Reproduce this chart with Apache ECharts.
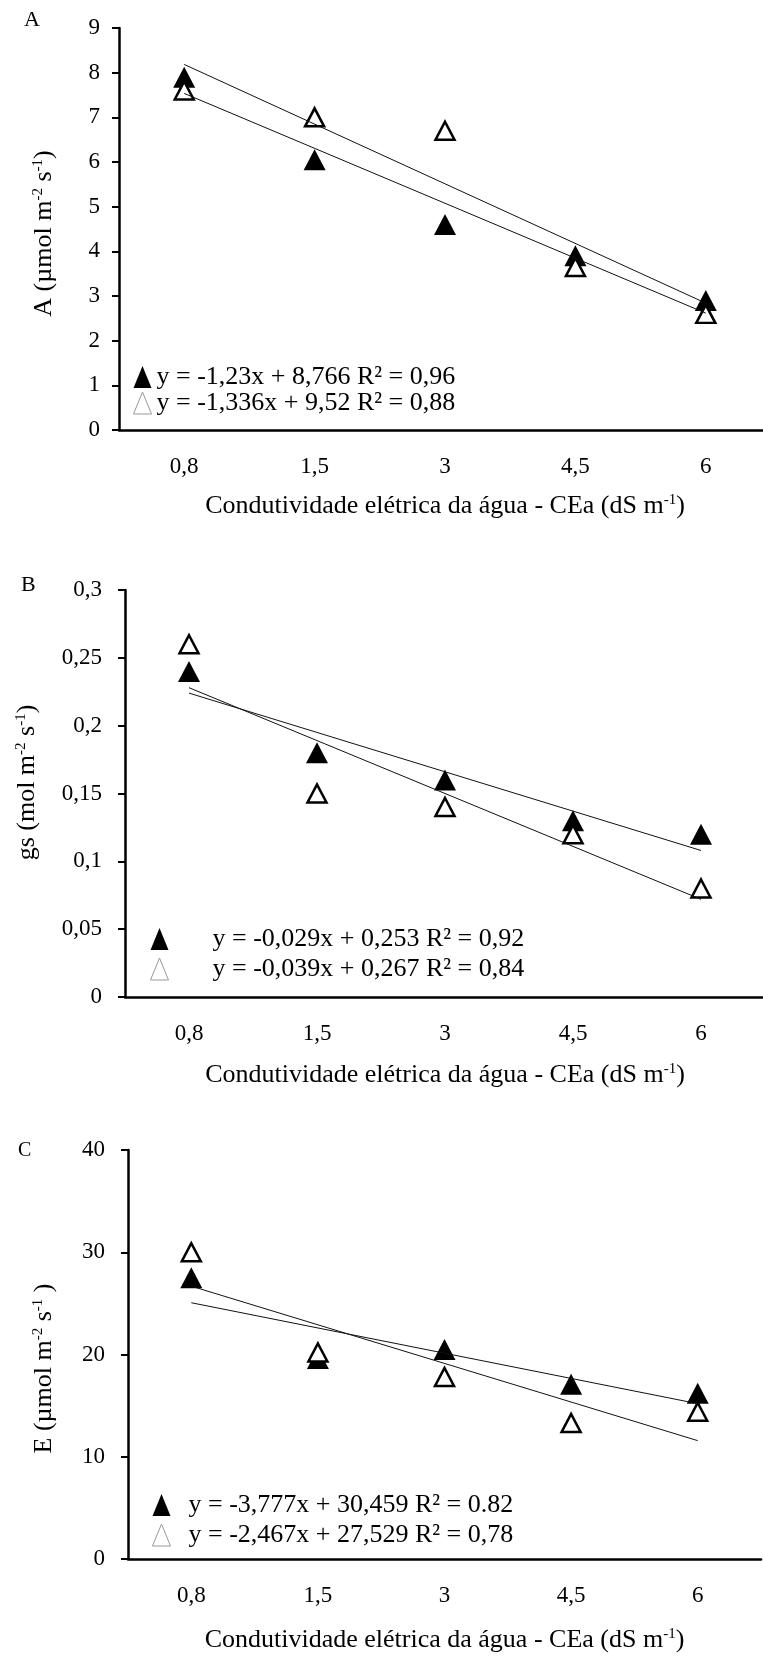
<!DOCTYPE html>
<html>
<head>
<meta charset="utf-8">
<title>Trocas gasosas x CEa</title>
<script src="https://cdn.jsdelivr.net/npm/echarts@6/dist/echarts.min.js"></script>
<style>
  html, body { margin: 0; padding: 0; background: #fff; }
  #chart { width: 763px; height: 1657px; }
</style>
</head>
<body>
<div id="chart"></div>
<script>
// niveis de CEa (eixo x, categorias)
const cea = ["0,8", "1,5", "3", "4,5", "6"];

// A - fotossintese liquida
const aFilled = [7.9, 6.05, 4.6, 3.9, 2.9];
const aOpen = [7.6, 7.0, 6.7, 3.65, 2.6];
const aFitFilled = [-1.23, 8.766];
const aFitOpen = [-1.336, 9.52];
const aEq = ["y = -1,23x + 8,766 R² = 0,96", "y = -1,336x + 9,52 R² = 0,88"];

// B - condutancia estomatica
const bFilled = [0.24, 0.18, 0.16, 0.13, 0.12];
const bOpen = [0.26, 0.15, 0.14, 0.12, 0.08];
const bFitFilled = [-0.029, 0.253];
const bFitOpen = [-0.039, 0.267];
const bEq = ["y = -0,029x + 0,253 R² = 0,92", "y = -0,039x + 0,267 R² = 0,84"];

// C - transpiracao
const cFilled = [27.5, 19.6, 20.5, 17.1, 16.2];
const cOpen = [30.0, 20.2, 17.8, 13.3, 14.4];
const cFitFilled = [-3.777, 30.459];
const cFitOpen = [-2.467, 27.529];
const cEq = ["y = -3,777x + 30,459 R² = 0.82", "y = -2,467x + 27,529 R² = 0,78"];

const FONT = '"Liberation Serif", "Times New Roman", serif';
const xTitle = "{n|Condutividade elétrica da água - CEa (dS m}{s|-1}{n|)}";

// reta de tendencia do Excel: x = 1..5 (posicao da categoria)
function trend(fit) {
  return [[0, fit[0] * 1 + fit[1]], [4, fit[0] * 5 + fit[1]]];
}

function comma(v) {
  return String(+v.toFixed(2)).replace(".", ",");
}

const richTitle = (size) => ({
  n: { fontSize: size, lineHeight: size, fontFamily: FONT, color: "#000" },
  s: { fontSize: 15, lineHeight: 15, fontFamily: FONT, color: "#000", verticalAlign: "top" }
});

const panels = [
  {
    key: "A", grid: { left: 119, top: 28, width: 652, height: 402 },
    max: 9, interval: 1, labelMargin: 19,
    yName: "{n|A (µmol m}{s|-2}{n| s}{s|-1}{n|)}", yGap: 62, yPad: [0, 9, 0, 0],
    xGap: 63, xMargin: 25,
    filled: aFilled, open: aOpen, fitFilled: aFitFilled, fitOpen: aFitOpen, eq: aEq,
    legend: { left: 133, top: 364, itemGap: 0, pad: "" }
  },
  {
    key: "B", grid: { left: 125, top: 590, width: 640, height: 407 },
    max: 0.3, interval: 0.05, labelMargin: 23,
    yName: "{n|gs (mol m}{s|-2}{n| s}{s|-1}{n|)}", yGap: 85, yPad: [0, 0, 0, 22],
    xGap: 65, xMargin: 25,
    filled: bFilled, open: bOpen, fitFilled: bFitFilled, fitOpen: bFitOpen, eq: bEq,
    legend: { left: 150, top: 926, itemGap: 4, pad: "      " }
  },
  {
    key: "C", grid: { left: 128, top: 1150, width: 633, height: 409 },
    max: 40, interval: 10, labelMargin: 23,
    yName: "{n|E (µmol m}{s|-2}{n| s}{s|-1}{n| )}", yGap: 71, yPad: [0, 28, 0, 0],
    xGap: 68, xMargin: 25,
    filled: cFilled, open: cOpen, fitFilled: cFitFilled, fitOpen: cFitOpen, eq: cEq,
    legend: { left: 152, top: 1492, itemGap: 4, pad: "  " }
  }
];

const option = {
  backgroundColor: "#fff",
  animation: false,
  grid: [], xAxis: [], yAxis: [], series: [], legend: [],
  graphic: [
    { type: "text", x: 24, y: 9, style: { text: "A", font: "22px " + FONT, fill: "#000" } },
    { type: "text", x: 21, y: 574, style: { text: "B", font: "22px " + FONT, fill: "#000" } },
    { type: "text", x: 18, y: 1141, style: { text: "C", font: "20px " + FONT, fill: "#000" } }
  ]
};

const eqText = {};

panels.forEach((p, i) => {
  option.grid.push(Object.assign({ containLabel: false, outerBoundsMode: "none" }, p.grid));
  option.xAxis.push({
    gridIndex: i,
    type: "category",
    data: cea,
    boundaryGap: true,
    axisLine: { lineStyle: { color: "#000", width: 2.5 } },
    axisTick: { length: 7, lineStyle: { color: "#000", width: 2 } },
    axisLabel: { color: "#000", fontFamily: FONT, fontSize: 23, margin: p.xMargin },
    name: xTitle,
    nameLocation: "middle",
    nameGap: p.xGap,
    nameTextStyle: { rich: richTitle(26) },
    splitLine: { show: false }
  });
  option.yAxis.push({
    gridIndex: i,
    type: "value",
    min: 0,
    max: p.max,
    interval: p.interval,
    axisLine: { show: true, lineStyle: { color: "#000", width: 2.5 } },
    axisTick: { show: true, length: 7, lineStyle: { color: "#000", width: 2 } },
    axisLabel: { color: "#000", fontFamily: FONT, fontSize: 23, margin: p.labelMargin, formatter: comma },
    splitLine: { show: false },
    name: p.yName,
    nameLocation: "middle",
    nameGap: p.yGap,
    nameTextStyle: { rich: richTitle(26), padding: p.yPad }
  });

  const nf = p.key + " cheio";
  const no = p.key + " vazio";
  eqText[nf] = p.legend.pad + p.eq[0];
  eqText[no] = p.legend.pad + p.eq[1];

  option.series.push(
    {
      name: nf, type: "scatter", xAxisIndex: i, yAxisIndex: i,
      symbol: "triangle", symbolSize: [22, 21],
      itemStyle: { color: "#000", opacity: 1 },
      data: p.filled
    },
    {
      name: no, type: "scatter", xAxisIndex: i, yAxisIndex: i,
      symbol: "triangle", symbolSize: [19, 18],
      itemStyle: { color: "#fff", borderColor: "#000", borderWidth: 2.5, opacity: 1 },
      data: p.open
    },
    {
      type: "line", xAxisIndex: i, yAxisIndex: i, symbol: "none", silent: true,
      lineStyle: { color: "#111", width: 1 },
      data: trend(p.fitFilled)
    },
    {
      type: "line", xAxisIndex: i, yAxisIndex: i, symbol: "none", silent: true,
      lineStyle: { color: "#111", width: 1 },
      data: trend(p.fitOpen)
    }
  );

  option.legend.push({
    orient: "vertical",
    left: p.legend.left,
    top: p.legend.top,
    itemGap: p.legend.itemGap,
    itemWidth: 18,
    itemHeight: 22,
    selectedMode: false,
    padding: 0,
    textStyle: { color: "#000", fontFamily: FONT, fontSize: 26, lineHeight: 22 },
    formatter: (name) => eqText[name],
    data: [
      { name: nf, icon: "triangle", itemStyle: { color: "#000", borderWidth: 0, opacity: 1 } },
      { name: no, icon: "triangle", itemStyle: { color: "#fff", borderColor: "#999", borderWidth: 1, opacity: 1 } }
    ]
  });
});

const chart = echarts.init(document.getElementById("chart"));
chart.setOption(option);
</script>
</body>
</html>
